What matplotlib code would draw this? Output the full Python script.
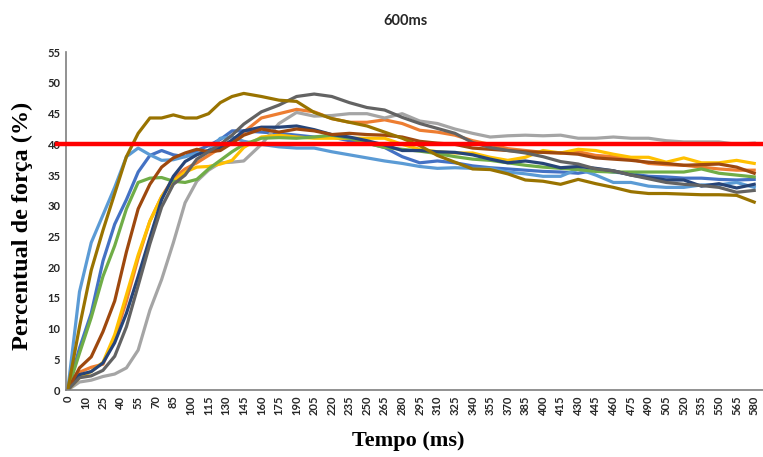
import matplotlib
matplotlib.use("Agg")
import matplotlib.pyplot as plt

# category index of each sample (one category = 5 ms step in the sheet)
x_cat = [0, 2, 4, 6, 8, 10, 12, 14, 16, 18, 20, 22, 24, 26, 28, 30,
         33, 36, 39, 42, 45, 48, 51, 54, 57, 60, 63, 66, 69, 72, 75, 78,
         81, 84, 87, 90, 93, 96, 99, 102, 105, 108, 111, 114, 117]

tick_labels = [0, 10, 25, 40, 55, 70, 85, 100, 115, 130, 145, 160, 175, 190,
               205, 220, 235, 250, 265, 280, 295, 310, 325, 340, 355, 370,
               385, 400, 415, 430, 445, 460, 475, 490, 505, 520, 535, 550,
               565, 580]

blue = [0, 6.8, 12.5, 21, 27, 31, 35.5, 38.2, 39, 38.3, 38, 39, 39.8, 40.8, 42.2, 42.2,
        42, 41.8, 41.5, 41.2, 41.2, 40.6, 40.2, 39.5, 38, 37, 37.3, 37, 36.5, 36.2, 36, 35.8,
        35.6, 35.5, 35.3, 35.8, 35.5, 35.2, 34.8, 34.7, 34.5, 34.5, 34.3, 34.2, 34.3]
orange = [0, 2.9, 3.7, 4.2, 8.5, 14.5, 21.5, 27.5, 31.5, 34.5, 36, 37, 38.2, 39.4, 40.6, 42,
          44.3, 45, 45.7, 45.3, 44.2, 43.6, 43.6, 44, 43.4, 42.3, 42, 41.5, 40.6, 40, 39.3, 39,
          38.7, 38.6, 38.8, 38.2, 38, 37.6, 36.9, 36.7, 36.6, 36.3, 36, 35.8, 35.8]
gray = [0, 1.3, 1.6, 2.2, 2.6, 3.6, 6.5, 13, 18, 24, 30.5, 34, 35.8, 37, 37.1, 37.3,
        40, 43.4, 45.2, 44.6, 44.7, 45, 45, 44.3, 45, 43.8, 43.4, 42.5, 41.8, 41.2, 41.4, 41.5,
        41.4, 41.5, 41, 41, 41.2, 41, 41, 40.6, 40.4, 40.4, 40.4, 40, 40.2]
yellow = [0, 2, 3, 4.5, 9, 15.5, 22, 27.5, 31.5, 34, 35.5, 36.3, 36.4, 36.8, 37.4, 39.5,
          41.2, 41.5, 41.2, 41, 41, 41, 41, 41, 40, 39.2, 38.8, 38.6, 38.6, 37.9, 37.4, 37.9,
          39, 38.6, 39.2, 39, 38.4, 37.9, 37.9, 37.1, 37.8, 37, 37, 37.4, 36.9]
light_blue = [0, 16, 24, 28.5, 33, 38, 39.4, 38.3, 37.4, 37.5, 38, 38.5, 39, 41, 41.2, 40.5,
              40, 39.6, 39.4, 39.4, 38.8, 38.3, 37.8, 37.3, 36.9, 36.4, 36.1, 36.2, 36.1, 36.1, 35.5, 35.2,
              34.8, 34.8, 36, 35, 33.8, 33.8, 33.2, 33, 33, 33.4, 33.4, 33.8, 33]
green = [0, 6, 11.8, 18.5, 23.5, 29.5, 33.8, 34.5, 34.6, 34, 33.8, 34.3, 36, 37.4, 38.8, 40,
         41, 41.1, 41, 41.2, 41.5, 41, 40.2, 39.5, 39.2, 38.9, 38.5, 38, 37.6, 37.4, 37, 36.6,
         36.3, 36.1, 35.9, 35.6, 35.5, 35.5, 35.5, 35.5, 35.5, 36, 35.3, 35, 34.7]
dark_blue = [0, 2.5, 3, 4.4, 7.7, 12.5, 18.5, 24.8, 31, 34.8, 37.2, 38.3, 39, 39.5, 40.7, 42.2,
             42.8, 42.8, 43, 42.4, 41.6, 41.2, 40.6, 39.9, 39, 39, 38.8, 38.7, 38.3, 37.6, 37, 37.3,
             36.9, 36.2, 36.4, 36.1, 35.7, 35, 34.6, 34.2, 34.2, 33.2, 33.6, 32.9, 33.5]
brown = [0, 3.6, 5.4, 9.5, 14.5, 22.5, 29.5, 33.5, 36.3, 37.8, 38.6, 39.2, 38.8, 39, 40.2, 41.5,
         42.5, 42, 42.5, 42.2, 41.6, 41.8, 41.6, 41.5, 41.2, 40.5, 40.2, 40, 39.4, 39.2, 39, 38.8,
         38.7, 38.6, 38.4, 37.8, 37.6, 37.4, 37.1, 36.9, 36.6, 36.7, 36.8, 36.3, 35.3]
dark_gray = [0, 2, 2.3, 3.2, 5.5, 10.3, 17, 23.8, 29.8, 33.5, 35, 37.6, 38.8, 40, 41.5, 43.3,
             45.3, 46.4, 47.8, 48.2, 47.8, 46.8, 46, 45.6, 44.4, 43.4, 42.6, 41.8, 40.3, 39.5, 39, 38.6,
             38, 37.2, 36.8, 36, 35.7, 35, 34.4, 33.8, 33.5, 33.3, 33, 32.2, 32.5]
dark_gold = [0, 10.3, 19.5, 26, 32, 38, 41.8, 44.3, 44.3, 44.8, 44.3, 44.3, 45, 46.8, 47.8, 48.3,
             47.8, 47.2, 47, 45.2, 44.2, 43.6, 43, 42, 41, 39.8, 38.2, 37.1, 36, 35.9, 35.2, 34.2,
             34, 33.5, 34.3, 33.6, 33, 32.3, 32, 32, 31.9, 31.8, 31.8, 31.7, 30.6]

series = [blue, orange, gray, yellow, light_blue, green, dark_blue, brown, dark_gray, dark_gold]
colors = ["#4472C4", "#ED7D31", "#A5A5A5", "#FFC000", "#5B9BD5",
          "#70AD47", "#264478", "#9E480E", "#636363", "#997300"]

threshold = 40

fig = plt.figure(figsize=(7.63, 4.57), dpi=100)
ax = fig.add_axes([0.0865, 0.1466, 0.9135, 0.739])

for values, color in zip(series, colors):
    ax.plot(x_cat, values, color=color, linewidth=2.3, solid_joinstyle="round")

ax.axhline(threshold, xmin=-0.013, xmax=1, color="#FF0000", linewidth=3.2, clip_on=False, zorder=5)

ax.set_xlim(-0.3, 118.5)
ax.set_ylim(0, 55)
ax.set_yticks(range(0, 56, 5))
ax.set_xticks(range(0, 118, 3))
ax.set_xticklabels([str(v) for v in tick_labels], rotation=90)

for lab in ax.get_xticklabels() + ax.get_yticklabels():
    lab.set_fontfamily("Lato")
    lab.set_fontweight("bold")
    lab.set_fontsize(8)
    lab.set_color("#262626")

ax.tick_params(axis="both", length=0, pad=4)
for side in ["top", "right"]:
    ax.spines[side].set_visible(False)
ax.spines["left"].set_color("#7f7f7f")
ax.spines["bottom"].set_color("#7f7f7f")
ax.spines["left"].set_linewidth(1.2)
ax.spines["bottom"].set_linewidth(1.2)

fig.text(0.532, 0.955, "600ms", ha="center", va="center", fontsize=10.5,
         fontweight="bold", family="Lato", color="#262626")
fig.text(0.535, 0.035, "Tempo (ms)", ha="center", va="center", fontsize=16,
         fontweight="bold", family="Liberation Serif")
fig.text(0.029, 0.505, "Percentual de força (%)", ha="center", va="center", fontsize=17.5,
         fontweight="bold", family="Liberation Serif", rotation=90)

fig.savefig("out.png", dpi=100)
